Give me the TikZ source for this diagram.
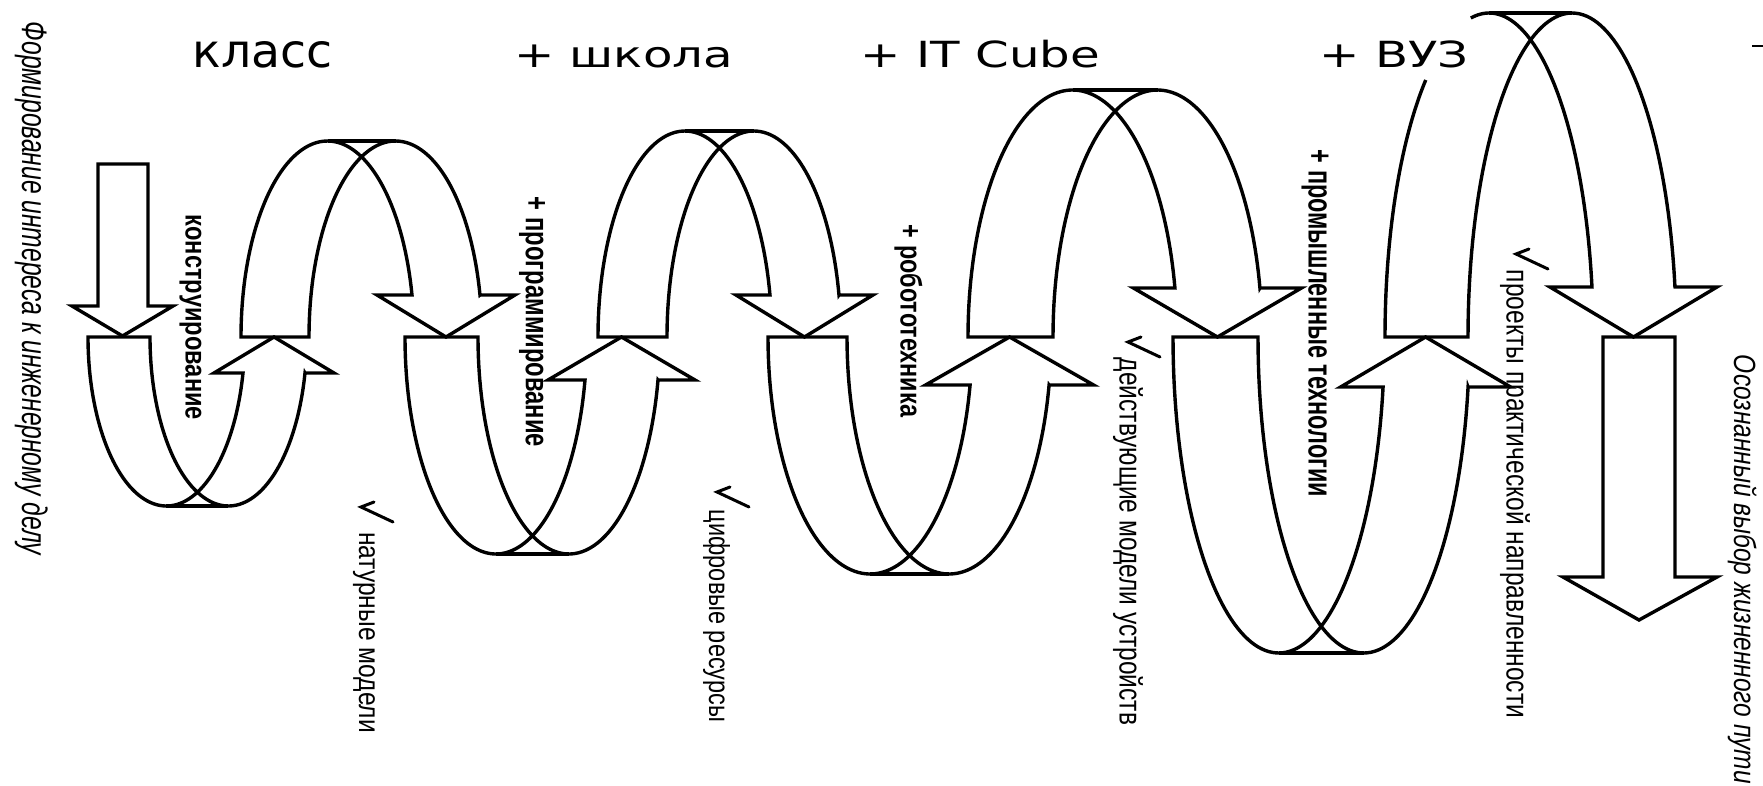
\documentclass[tikz,border=0pt]{standalone}
\usepackage{fontspec}
\usepackage{graphicx}
\setmainfont{Liberation Sans}
\newfontfamily\headfont{DejaVu Sans}

\tikzset{
  band/.style={line width=3.4pt, line join=miter, miter limit=12},
  tickmark/.style={line width=3pt, line join=miter, line cap=round},
  vtext/.style={rotate=-90, inner sep=0pt, outer sep=0pt},
  htext/.style={inner sep=0pt, outer sep=0pt, anchor=base},
}

% ribbon bending below the base line and rising into an up arrow
% #1 centre x, #2 x radius, #3 depth, #4 band width, #5 head length, #6 half head width
\newcommand\lowerribbon[6]{%
  \pgfmathsetmacro\rbK{sqrt(1-(#5/#3)^2)}%
  \pgfmathsetmacro\rbT{asin(#5/#3)}%
  \pgfmathsetmacro\rbL{#1+#2*\rbK}%
  \pgfmathsetmacro\rbC{\rbL+#4/2}%
  \pgfmathsetmacro\rbR{\rbL+#4}%
  \draw[band] plot[domain=180:\rbT, samples=90, variable=\ang] ({#1+#2*cos(\ang)},{337+#3*sin(\ang)})
    -- (\rbC-#6,337+#5) -- (\rbC,337) -- (\rbC+#6,337+#5) -- (\rbR,337+#5)
    -- plot[domain=\rbT:180, samples=90, variable=\ang] ({#1+#4+#2*cos(\ang)},{337+#3*sin(\ang)})
    -- cycle;
  \draw[band] (#1,337+#3) -- (#1+#4,337+#3);
}

% ribbon bending above the base line and falling into a down arrow
\newcommand\upperribbon[6]{%
  \pgfmathsetmacro\rbK{sqrt(1-(#5/#3)^2)}%
  \pgfmathsetmacro\rbT{asin(#5/#3)}%
  \pgfmathsetmacro\rbE{360-\rbT}%
  \pgfmathsetmacro\rbL{#1+#2*\rbK}%
  \pgfmathsetmacro\rbC{\rbL+#4/2}%
  \pgfmathsetmacro\rbR{\rbL+#4}%
  \draw[band] plot[domain=180:\rbE, samples=90, variable=\ang] ({#1+#2*cos(\ang)},{337+#3*sin(\ang)})
    -- (\rbC-#6,337-#5) -- (\rbC,337) -- (\rbC+#6,337-#5) -- (\rbR,337-#5)
    -- plot[domain=\rbE:180, samples=90, variable=\ang] ({#1+#4+#2*cos(\ang)},{337+#3*sin(\ang)})
    -- cycle;
  \draw[band] (#1,337-#3) -- (#1+#4,337-#3);
}

% vertical label: name, centre x, top, bottom, thickness, text
\newcommand\vlabel[6]{%
  \node[vtext] (#1) at (#2,{(#3+#4)/2}) {\resizebox*{\dimexpr #4pt-#3pt\relax}{#5pt}{#6}};
}
% check mark lying on its side, drawn from its corner point
\newcommand\chk[2]{%
  \draw[tickmark] (#1+13,#2-5) -- (#1,#2) -- (#1+32,#2+15);
}

\begin{document}
\begin{tikzpicture}[x=1pt,y=-1pt]
\useasboundingbox (0,0) rectangle (1763,785);

% starting arrow
\draw[band] (98,164) -- (148,164) -- (148,306) -- (173,306) -- (122.5,336) -- (72,306) -- (98,306) -- cycle;

% the spiral of loops
\lowerribbon{166.4}{78.4}{169}{62}{36}{60}
\upperribbon{327.5}{86.5}{196}{68}{42}{69}
\lowerribbon{495.9}{90.9}{217}{73}{43}{73.5}
\upperribbon{684.9}{86.9}{206}{69}{42}{68.5}
\lowerribbon{870.1}{102.1}{237}{79}{48}{84}
\upperribbon{1072.5}{104.5}{247}{85}{49}{84}
\lowerribbon{1278.7}{105.7}{316}{85}{50}{85}

% last upper loop, its outer edge broken behind the heading
\draw[band] plot[domain=259.9:351.12, samples=90, variable=\ang] ({1489.1+104.1*cos(\ang)},{337+324*sin(\ang)})
  -- (1549.95,287) -- (1633.45,337) -- (1716.95,287) -- (1674.95,287)
  -- plot[domain=351.12:180, samples=90, variable=\ang] ({1572.1+104.1*cos(\ang)},{337+324*sin(\ang)})
  -- (1385,337)
  -- plot[domain=180:232.5, samples=60, variable=\ang] ({1489.1+104.1*cos(\ang)},{337+324*sin(\ang)});
\draw[band] (1489.1,13) -- (1572.1,13);

% final arrow
\draw[band] (1603,337) -- (1675,337) -- (1675,577) -- (1717,577) -- (1639,620) -- (1563,577) -- (1603,577) -- cycle;

% headings
\node[htext] (klass) at (263,67) {\resizebox{140pt}{26pt}{\headfont класс}};
\node[htext] (shkola) at (623.5,67) {\scalebox{1.34}[1]{\headfont\fontsize{36}{40}\selectfont + школа}};
\node[htext] (itcube) at (980.5,67) {\scalebox{1.34}[1]{\headfont\fontsize{36}{40}\selectfont + IT Cube}};
\node[htext] (vuz) at (1394,67) {\scalebox{1.34}[1]{\headfont\fontsize{36}{40}\selectfont + ВУЗ}};
% bar of the next, cropped heading
\draw[line width=2.8pt] (1752,46) -- (1763,46);

% vertical labels
\vlabel{interest}{31.5}{22}{555}{33}{\itshape Формирование интереса к инженерному делу}
\vlabel{design}{190.5}{215}{420}{22}{\bfseries конструирование}
\vlabel{coding}{532}{197}{447}{26}{\bfseries + программирование}
\vlabel{robotics}{908.5}{225}{417}{28}{\bfseries + робототехника}
\vlabel{industry}{1315}{150}{497}{27}{\bfseries + промышленные технологии}
\vlabel{fullscale}{364}{532}{733}{22}{натурные модели}
\vlabel{digital}{716.5}{510}{722}{27}{цифровые ресурсы}
\vlabel{working}{1128}{358}{725}{30}{действующие модели устройств}
\vlabel{projects}{1515}{270}{718}{30}{проекты практической направленности}
\vlabel{choice}{1742.5}{355}{784}{29}{\itshape Осознанный выбор жизненного пути}

% check marks before the result labels
\chk{361}{507}
\chk{717}{492}
\chk{1128}{342}
\chk{1516}{254}
\end{tikzpicture}
\end{document}
